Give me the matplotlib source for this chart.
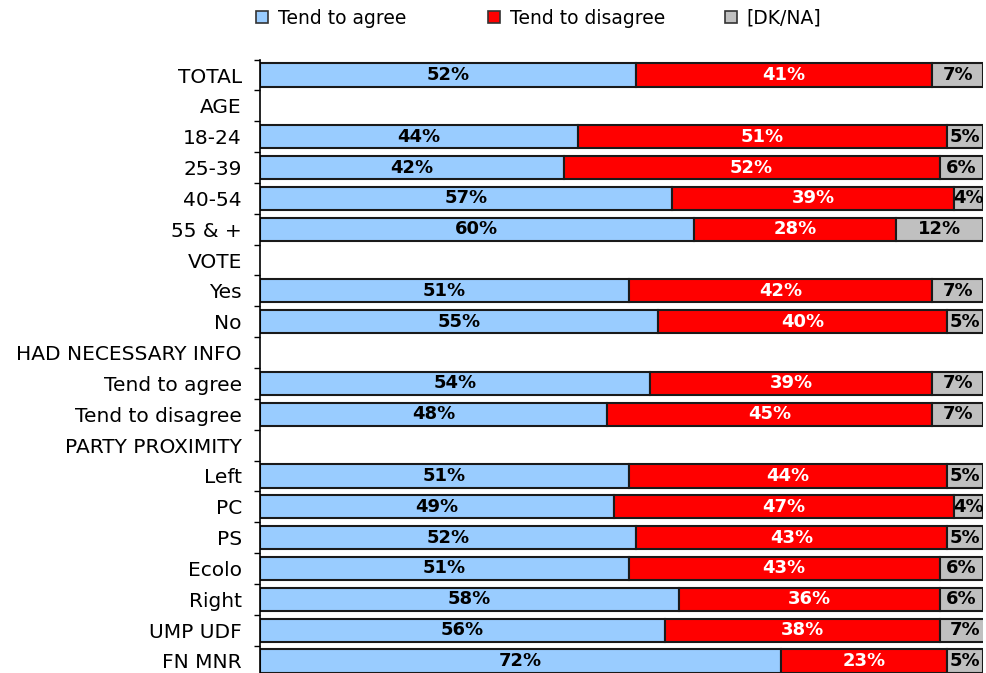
import numpy as np
import matplotlib
matplotlib.use("Agg")
import matplotlib.pyplot as plt
from matplotlib.patches import Patch

plt.rcParams["font.family"] = ["DejaVu Sans"]

# 数据（标题行没有数值）
categories = ["TOTAL", "AGE", "18-24", "25-39", "40-54", "55 & +", "VOTE", "Yes", "No",
              "HAD NECESSARY INFO", "Tend to agree", "Tend to disagree", "PARTY PROXIMITY",
              "Left", "PC", "PS", "Ecolo", "Right", "UMP UDF", "FN MNR"]
agree = [52, None, 44, 42, 57, 60, None, 51, 55, None, 54, 48, None, 51, 49, 52, 51, 58, 56, 72]
disagree = [41, None, 51, 52, 39, 28, None, 42, 40, None, 39, 45, None, 44, 47, 43, 43, 36, 38, 23]
dkna = [7, None, 5, 6, 4, 12, None, 7, 5, None, 7, 7, None, 5, 4, 5, 6, 6, 7, 5]
series_names = ["Tend to agree", "Tend to disagree", "[DK/NA]"]
colors = ["#99CCFF", "#FF0000", "#C0C0C0"]
text_colors = ["black", "white", "black"]

n = len(categories)
fig = plt.figure(figsize=(9.86, 6.73), dpi=100)
ax = fig.add_axes([260 / 986, -3.4 / 673, 723 / 986, 616.8 / 673])

y = np.arange(n)
rows = [i for i in range(n) if agree[i] is not None]
left = np.zeros(n)
for values, color, tcol in zip([agree, disagree, dkna], colors, text_colors):
    vals = np.array([values[i] for i in rows], dtype=float)
    ax.barh(y[rows], vals, left=left[rows], height=0.75, color=color,
            edgecolor="#1a1a1a", linewidth=1.5, zorder=2)
    for r, v in zip(rows, vals):
        ax.text(left[r] + v / 2, r, f"{int(v)}%", ha="center", va="center",
                fontsize=13, fontweight="bold", color=tcol, zorder=3)
    left[rows] += vals

ax.set_xlim(0, 100)
ax.set_ylim(n - 0.5, -0.5)
ax.set_yticks(y)
ax.set_yticklabels(categories, fontsize=14.5)
ax.set_yticks(np.arange(n + 1) - 0.5, minor=True)
ax.tick_params(axis="y", which="major", length=0, pad=13)
ax.tick_params(axis="y", which="minor", length=4, direction="out", width=1)
ax.set_xticks([])
for s in ["top", "right", "bottom"]:
    ax.spines[s].set_visible(False)
ax.spines["left"].set_linewidth(1.2)

# 图例：三个条目分开放置
legend_x = [256, 488, 725]
for name, c, lx in zip(series_names, colors, legend_x):
    fig.legend([Patch(facecolor=c, edgecolor="#333333", linewidth=1.2)], [name],
               loc="center left", bbox_to_anchor=(lx / 986, 1 - 18 / 673),
               frameon=False, fontsize=13.5, handlelength=0.65, handleheight=0.65,
               handletextpad=0.5, borderaxespad=0, borderpad=0)

fig.savefig("out.png", dpi=100)
